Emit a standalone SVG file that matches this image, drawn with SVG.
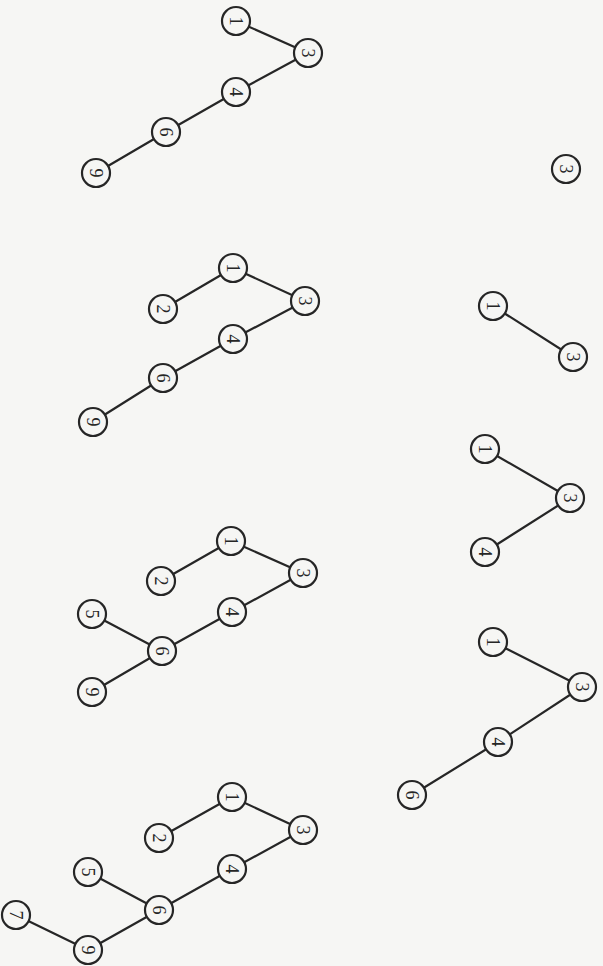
<svg xmlns="http://www.w3.org/2000/svg" width="603" height="966" viewBox="0 0 603 966">
<style>
.bg{fill:#f6f6f4}
.e line{stroke:#262626;stroke-width:2.2;stroke-linecap:round}
.n circle{fill:#f6f6f4;stroke:#262626;stroke-width:2.2}
.n text{font-family:"Liberation Serif","Times New Roman",serif;font-size:18px;fill:#262626;text-anchor:middle;dominant-baseline:central}
</style>
<rect class="bg" x="0" y="0" width="603" height="966"/>
<g id="connectors" class="e">
<!-- tree A -->
<line x1="236" y1="21" x2="308" y2="53"/>
<line x1="308" y1="53" x2="236" y2="92"/>
<line x1="236" y1="92" x2="166" y2="132"/>
<line x1="166" y1="132" x2="96" y2="173"/>
<!-- tree B -->
<line x1="233" y1="268" x2="305" y2="301"/>
<line x1="233" y1="268" x2="163" y2="309"/>
<line x1="305" y1="301" x2="233" y2="339"/>
<line x1="233" y1="339" x2="163" y2="378"/>
<line x1="163" y1="378" x2="93" y2="422"/>
<!-- tree C -->
<line x1="231" y1="541" x2="303" y2="573"/>
<line x1="231" y1="541" x2="161" y2="581"/>
<line x1="303" y1="573" x2="232" y2="612"/>
<line x1="232" y1="612" x2="162" y2="651"/>
<line x1="162" y1="651" x2="92" y2="614"/>
<line x1="162" y1="651" x2="92" y2="692"/>
<!-- tree D -->
<line x1="232" y1="797" x2="303" y2="830"/>
<line x1="232" y1="797" x2="159" y2="838"/>
<line x1="303" y1="830" x2="232" y2="869"/>
<line x1="232" y1="869" x2="159" y2="910"/>
<line x1="159" y1="910" x2="88" y2="872"/>
<line x1="159" y1="910" x2="88" y2="950"/>
<line x1="88" y1="950" x2="16" y2="915"/>
<!-- right column -->
<line x1="493" y1="306" x2="573" y2="357"/>
<line x1="485" y1="449" x2="570" y2="498"/>
<line x1="570" y1="498" x2="485" y2="552"/>
<line x1="493" y1="642" x2="582" y2="687"/>
<line x1="582" y1="687" x2="498" y2="742"/>
<line x1="498" y1="742" x2="412" y2="795"/>
</g>
<g class="n">
<g id="a1"><circle cx="236" cy="21" r="14"/><text transform="translate(236 21) rotate(90)">1</text></g>
<g id="a3"><circle cx="308" cy="53" r="14"/><text transform="translate(308 53) rotate(90)">3</text></g>
<g id="a4"><circle cx="236" cy="92" r="14"/><text transform="translate(236 92) rotate(90)">4</text></g>
<g id="a6"><circle cx="166" cy="132" r="14"/><text transform="translate(166 132) rotate(90)">6</text></g>
<g id="a9"><circle cx="96" cy="173" r="14"/><text transform="translate(96 173) rotate(90)">9</text></g>

<g id="b1"><circle cx="233" cy="268" r="14"/><text transform="translate(233 268) rotate(90)">1</text></g>
<g id="b2"><circle cx="163" cy="309" r="14"/><text transform="translate(163 309) rotate(90)">2</text></g>
<g id="b3"><circle cx="305" cy="301" r="14"/><text transform="translate(305 301) rotate(90)">3</text></g>
<g id="b4"><circle cx="233" cy="339" r="14"/><text transform="translate(233 339) rotate(90)">4</text></g>
<g id="b6"><circle cx="163" cy="378" r="14"/><text transform="translate(163 378) rotate(90)">6</text></g>
<g id="b9"><circle cx="93" cy="422" r="14"/><text transform="translate(93 422) rotate(90)">9</text></g>

<g id="c1"><circle cx="231" cy="541" r="14"/><text transform="translate(231 541) rotate(90)">1</text></g>
<g id="c2"><circle cx="161" cy="581" r="14"/><text transform="translate(161 581) rotate(90)">2</text></g>
<g id="c3"><circle cx="303" cy="573" r="14"/><text transform="translate(303 573) rotate(90)">3</text></g>
<g id="c4"><circle cx="232" cy="612" r="14"/><text transform="translate(232 612) rotate(90)">4</text></g>
<g id="c5"><circle cx="92" cy="614" r="14"/><text transform="translate(92 614) rotate(90)">5</text></g>
<g id="c6"><circle cx="162" cy="651" r="14"/><text transform="translate(162 651) rotate(90)">6</text></g>
<g id="c9"><circle cx="92" cy="692" r="14"/><text transform="translate(92 692) rotate(90)">9</text></g>

<g id="d1"><circle cx="232" cy="797" r="14"/><text transform="translate(232 797) rotate(90)">1</text></g>
<g id="d2"><circle cx="159" cy="838" r="14"/><text transform="translate(159 838) rotate(90)">2</text></g>
<g id="d3"><circle cx="303" cy="830" r="14"/><text transform="translate(303 830) rotate(90)">3</text></g>
<g id="d4"><circle cx="232" cy="869" r="14"/><text transform="translate(232 869) rotate(90)">4</text></g>
<g id="d5"><circle cx="88" cy="872" r="14"/><text transform="translate(88 872) rotate(90)">5</text></g>
<g id="d6"><circle cx="159" cy="910" r="14"/><text transform="translate(159 910) rotate(90)">6</text></g>
<g id="d7"><circle cx="16" cy="915" r="14"/><text transform="translate(16 915) rotate(90)">7</text></g>
<g id="d9"><circle cx="88" cy="950" r="14"/><text transform="translate(88 950) rotate(90)">9</text></g>

<g id="e3"><circle cx="566" cy="169" r="14"/><text transform="translate(566 169) rotate(90)">3</text></g>

<g id="f1"><circle cx="493" cy="306" r="14"/><text transform="translate(493 306) rotate(90)">1</text></g>
<g id="f3"><circle cx="573" cy="357" r="14"/><text transform="translate(573 357) rotate(90)">3</text></g>

<g id="g1"><circle cx="485" cy="449" r="14"/><text transform="translate(485 449) rotate(90)">1</text></g>
<g id="g3"><circle cx="570" cy="498" r="14"/><text transform="translate(570 498) rotate(90)">3</text></g>
<g id="g4"><circle cx="485" cy="552" r="14"/><text transform="translate(485 552) rotate(90)">4</text></g>

<g id="h1"><circle cx="493" cy="642" r="14"/><text transform="translate(493 642) rotate(90)">1</text></g>
<g id="h3"><circle cx="582" cy="687" r="14"/><text transform="translate(582 687) rotate(90)">3</text></g>
<g id="h4"><circle cx="498" cy="742" r="14"/><text transform="translate(498 742) rotate(90)">4</text></g>
<g id="h6"><circle cx="412" cy="795" r="14"/><text transform="translate(412 795) rotate(90)">6</text></g>
</g>
</svg>
